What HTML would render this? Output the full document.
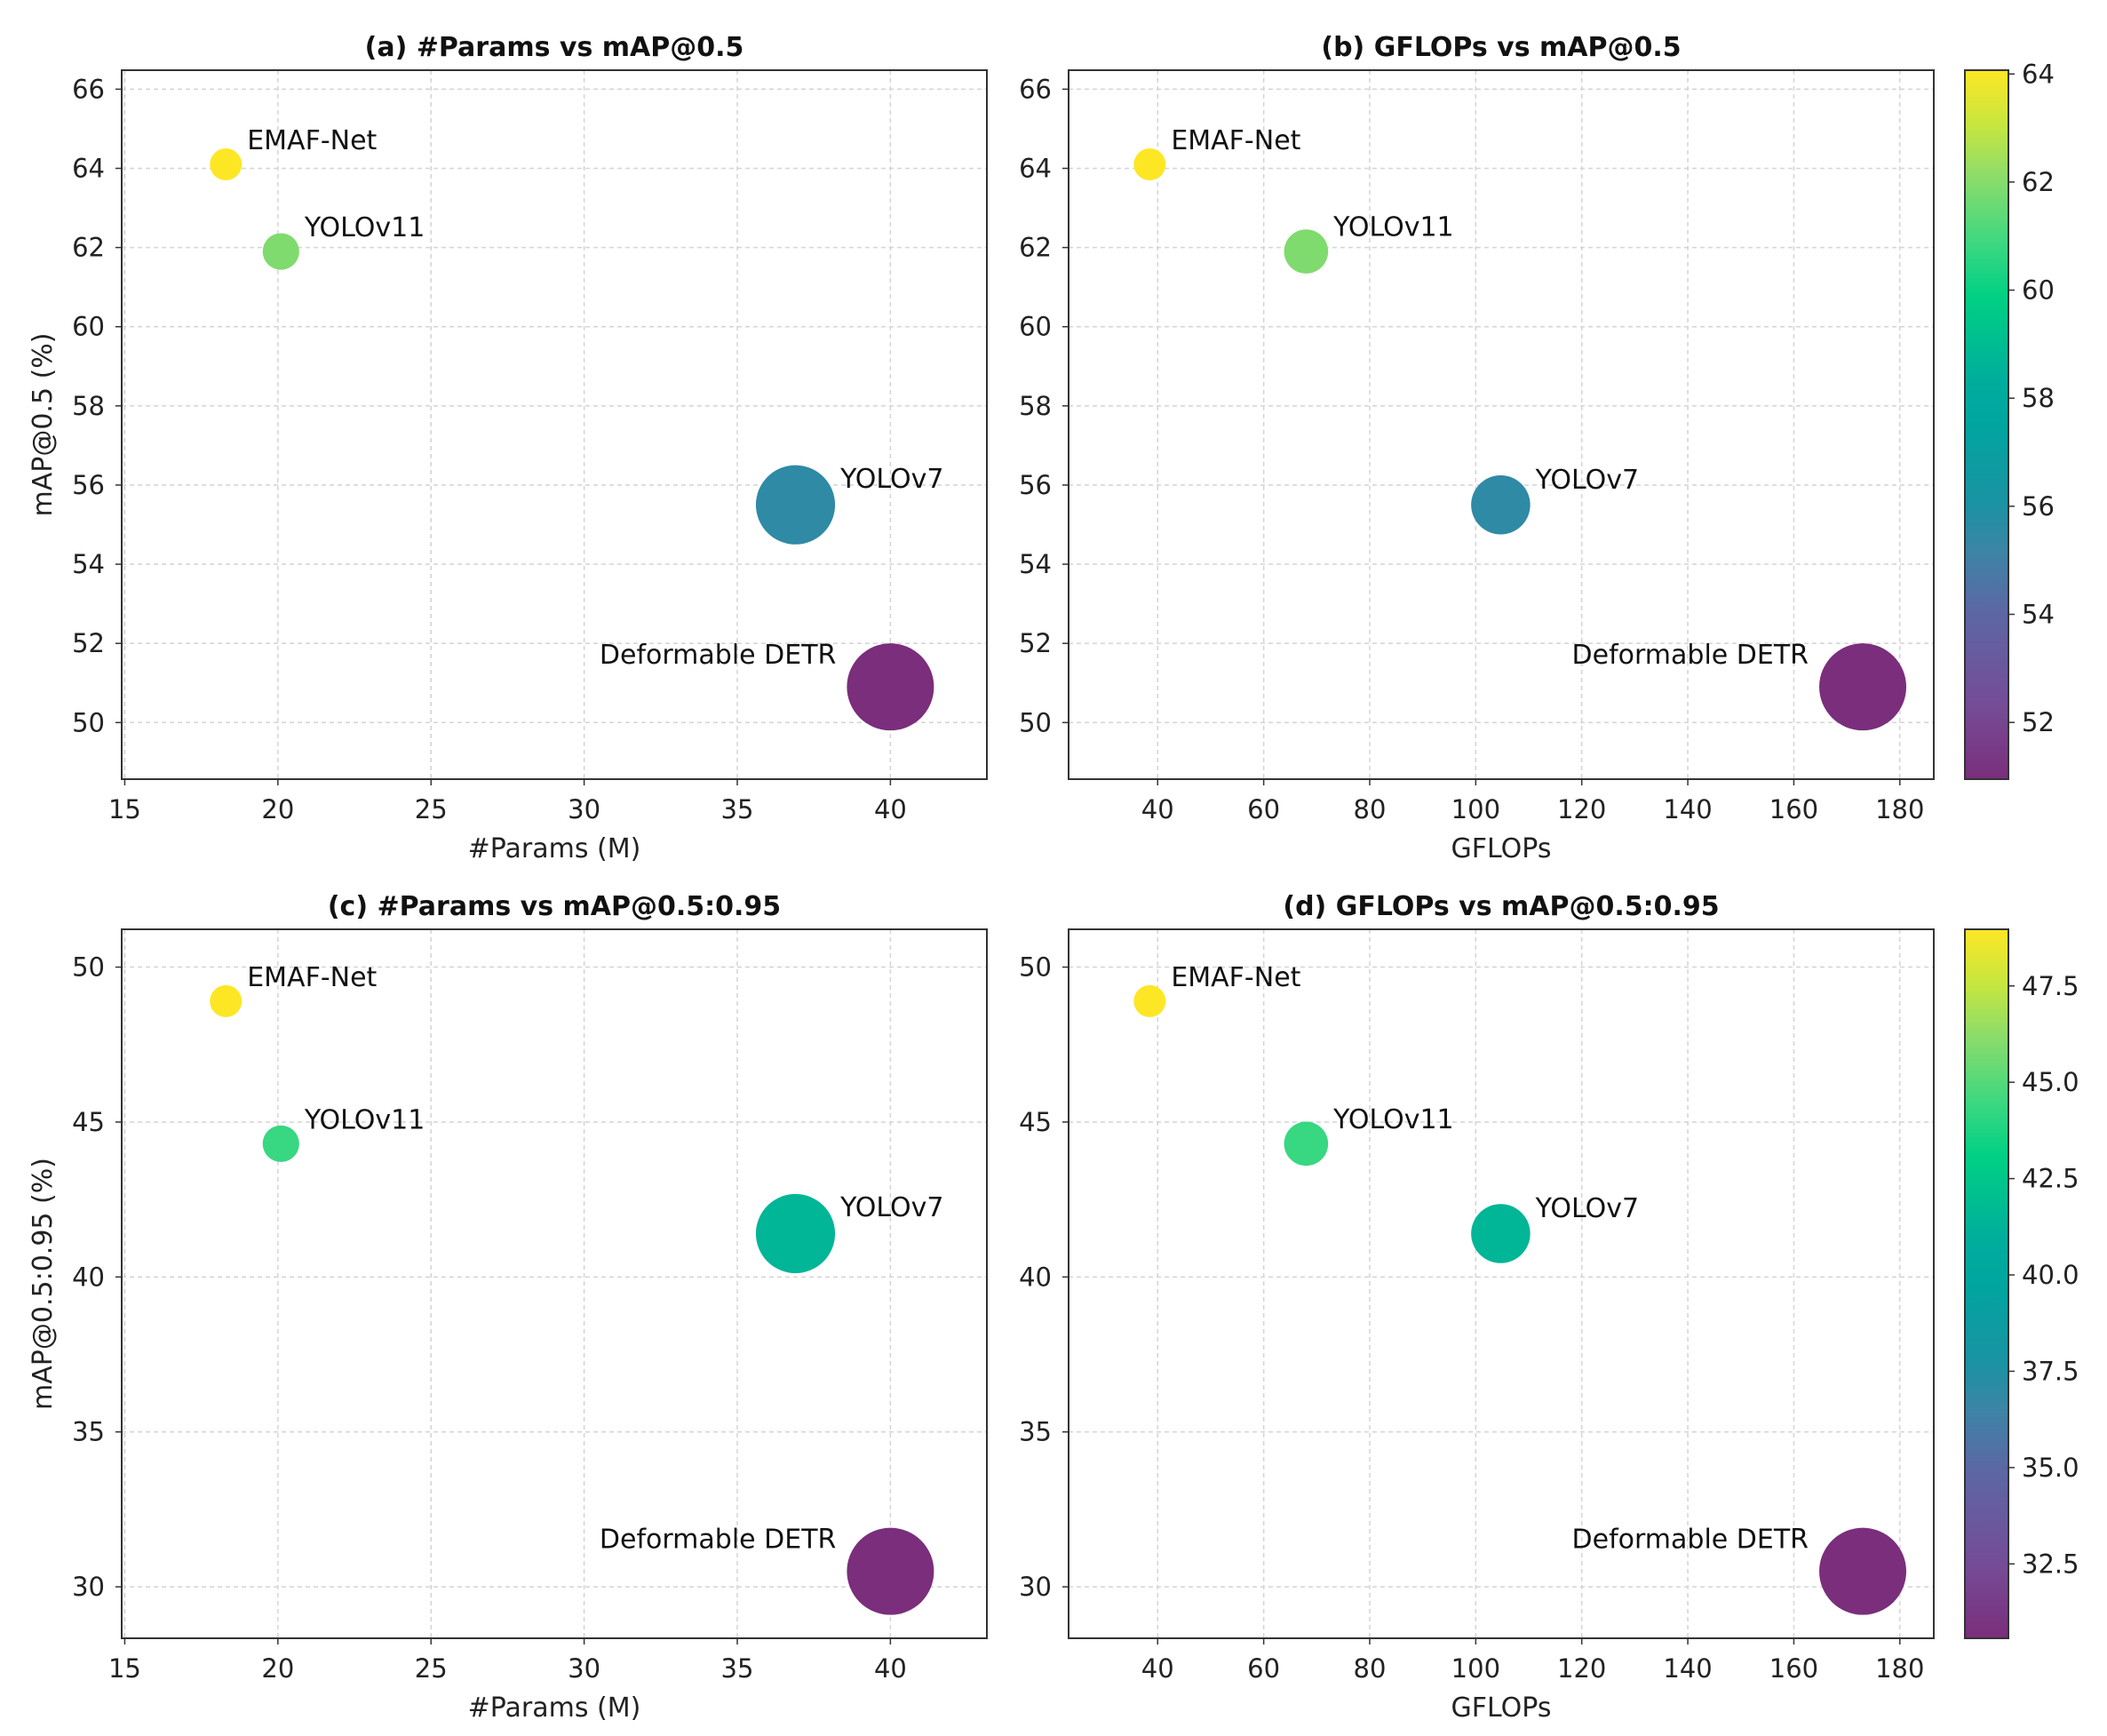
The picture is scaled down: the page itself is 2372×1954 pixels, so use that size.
<!DOCTYPE html>
<html><head><meta charset="utf-8"><style>
html,body{margin:0;padding:0;background:#fff;}
svg{display:block;font-family:"DejaVu Sans","Liberation Sans",sans-serif;}
</style></head><body>
<svg id="fig" width="2372" height="1954" viewBox="0 0 2372 1954" xmlns="http://www.w3.org/2000/svg">
<defs>
<linearGradient id="vir" x1="0" y1="1" x2="0" y2="0"></linearGradient>
</defs>
</svg>
<script>
const models = ["EMAF-Net","YOLOv11","YOLOv7","Deformable DETR"];
const params = [18.3, 20.1, 36.9, 40.0];
const gflops = [38.5, 68.0, 104.7, 173.0];
const map50 = [64.1, 61.9, 55.5, 50.9];
const map5095 = [48.9, 44.3, 41.4, 30.5];
const xTicksParams = [15,20,25,30,35,40];
const xTicksGflops = [40,60,80,100,120,140,160,180];
const yTicksMap50 = [50,52,54,56,58,60,62,64,66];
const yTicksMap5095 = [30,35,40,45,50];
const cbTicksMap50 = [52,54,56,58,60,62,64];
const cbTicksMap5095 = ["32.5","35.0","37.5","40.0","42.5","45.0","47.5"];

const NS="http://www.w3.org/2000/svg";
const svgEl=document.getElementById('fig');
const cmapPos=[0,0.1,0.24,0.32,0.39,0.5,0.56,0.68,0.76,0.85,0.92,1];
const cmapCol=["#7a2e7b","#764b96","#5b68a4","#3d84a6","#1a93a3","#00a5a0","#00ad9c","#00d084","#40d880","#8ddc6a","#c5e640","#fde725"];
const grad=document.getElementById('vir');
cmapPos.forEach((p,i)=>{const s=document.createElementNS(NS,'stop');s.setAttribute('offset',p);s.setAttribute('stop-color',cmapCol[i]);grad.appendChild(s);});
function hex(h){return [1,3,5].map(i=>parseInt(h.substr(i,2),16));}
function cmap(t){t=Math.max(0,Math.min(1,t));let i=0;while(i<cmapPos.length-2&&t>cmapPos[i+1])i++;const f=(t-cmapPos[i])/(cmapPos[i+1]-cmapPos[i]);const a=hex(cmapCol[i]),b=hex(cmapCol[i+1]);return 'rgb('+a.map((v,k)=>Math.round(v+(b[k]-v)*f)).join(',')+')';}
function mk(tag,attrs,parent){const e=document.createElementNS(NS,tag);for(const k in attrs)e.setAttribute(k,attrs[k]);(parent||svgEl).appendChild(e);return e;}

function panel(o){
  const g=mk('g',{});
  
  
  const L=o.x0,R=o.x1,T=o.y0,B=o.y1;
  const sx=v=>L+(v-o.xmin)/(o.xmax-o.xmin)*(R-L);
  const sy=v=>B-(v-o.ymin)/(o.ymax-o.ymin)*(B-T);
  o.xt.forEach(v=>{
    const X=sx(v);
    const gl=mk('line',{x1:X,x2:X,y1:T,y2:B,stroke:'#d4d4d4','stroke-width':1.5,'stroke-dasharray':'5,4'},g);
    
    
    mk('line',{x1:X,x2:X,y1:B,y2:B+7,stroke:'#333','stroke-width':1.5},g);
    const t=mk('text',{x:X,y:B+44,'text-anchor':'middle','font-size':29,fill:'#222'},g);
    t.textContent=v;
    
    
  });
  o.yt.forEach(v=>{
    const Y=sy(v);
    const gl=mk('line',{x1:L,x2:R,y1:Y,y2:Y,stroke:'#d4d4d4','stroke-width':1.5,'stroke-dasharray':'5,4'},g);
    
    
    mk('line',{x1:L-7,x2:L,y1:Y,y2:Y,stroke:'#333','stroke-width':1.5},g);
    const t=mk('text',{x:L-19,y:Y+10,'text-anchor':'end','font-size':29,fill:'#222'},g);
    t.textContent=v;
    
    
  });
  const smin=Math.min(...o.size),smax=Math.max(...o.size);
  o.xs.forEach((xv,i)=>{
    const X=sx(xv),Y=sy(o.ys[i]);
    const r=18+(o.size[i]-smin)/(smax-smin)*31;
    const c=mk('circle',{cx:X,cy:Y,r:r,fill:cmap((o.ys[i]-o.cmin)/(o.cmax-o.cmin))},g);
    
    
    let t;
    if(i===3){t=mk('text',{x:X-r-12,y:Y-26,'text-anchor':'end','font-size':30,fill:'#111'},g);}
    else{t=mk('text',{x:X+r+6,y:Y-15-r*0.1,'text-anchor':'start','font-size':30,fill:'#111'},g);}
    t.textContent=models[i];
    
    
  });
  const fr=mk('rect',{x:L,y:T,width:R-L,height:B-T,fill:'none',stroke:'#333','stroke-width':2},g);
  
  
  const ti=mk('text',{x:(L+R)/2,y:T-16,'text-anchor':'middle','font-size':30,'font-weight':'bold',fill:'#111'},g);
  ti.textContent=o.title;
  
  
  const xl=mk('text',{x:(L+R)/2,y:B+88,'text-anchor':'middle','font-size':30,fill:'#222'},g);
  xl.textContent=o.xlabel;
  
  
  if(o.ylabel){
    const yl=mk('text',{x:0,y:0,'text-anchor':'middle','font-size':30,fill:'#222',transform:'translate(58,'+((T+B)/2)+') rotate(-90)'},g);
    yl.textContent=o.ylabel;
    
    
  }
}
function colorbar(o){
  const g=mk('g',{});
  
  
  const r=mk('rect',{x:2212,y:o.y0,width:49,height:o.y1-o.y0,fill:'url(#vir)',stroke:'#333','stroke-width':2},g);
  
  
  o.ticks.forEach(v=>{
    const Y=o.y1-(parseFloat(v)-o.cmin)/(o.cmax-o.cmin)*(o.y1-o.y0);
    mk('line',{x1:2261,x2:2268,y1:Y,y2:Y,stroke:'#333','stroke-width':1.5},g);
    const t=mk('text',{x:2276,y:Y+10,'font-size':29,fill:'#222'},g);
    t.textContent=v;
    
    
  });
}
const c50=[Math.min(...map50),Math.max(...map50)], c95=[Math.min(...map5095),Math.max(...map5095)];
const rowTop={y0:79,y1:877,ymin:48.57,ymax:66.48}, rowBot={y0:1046,y1:1844,ymin:28.34,ymax:51.22};
panel(Object.assign({name:'panel-a',title:'(a) #Params vs mAP@0.5',xlabel:'#Params (M)',ylabel:'mAP@0.5 (%)',x0:137,x1:1111,xmin:14.9,xmax:43.15,xt:xTicksParams,yt:yTicksMap50,xs:params,ys:map50,size:params,cmin:c50[0],cmax:c50[1]},rowTop));
panel(Object.assign({name:'panel-b',title:'(b) GFLOPs vs mAP@0.5',xlabel:'GFLOPs',x0:1203,x1:2177,xmin:23.2,xmax:186.4,xt:xTicksGflops,yt:yTicksMap50,xs:gflops,ys:map50,size:gflops,cmin:c50[0],cmax:c50[1]},rowTop));
panel(Object.assign({name:'panel-c',title:'(c) #Params vs mAP@0.5:0.95',xlabel:'#Params (M)',ylabel:'mAP@0.5:0.95 (%)',x0:137,x1:1111,xmin:14.9,xmax:43.15,xt:xTicksParams,yt:yTicksMap5095,xs:params,ys:map5095,size:params,cmin:c95[0],cmax:c95[1]},rowBot));
panel(Object.assign({name:'panel-d',title:'(d) GFLOPs vs mAP@0.5:0.95',xlabel:'GFLOPs',x0:1203,x1:2177,xmin:23.2,xmax:186.4,xt:xTicksGflops,yt:yTicksMap5095,xs:gflops,ys:map5095,size:gflops,cmin:c95[0],cmax:c95[1]},rowBot));
colorbar({name:'colorbar-map50',y0:79,y1:877,cmin:50.95,cmax:64.07,ticks:cbTicksMap50});
colorbar({name:'colorbar-map5095',y0:1046,y1:1844,cmin:30.57,cmax:48.97,ticks:cbTicksMap5095});
</script>
</body></html>
